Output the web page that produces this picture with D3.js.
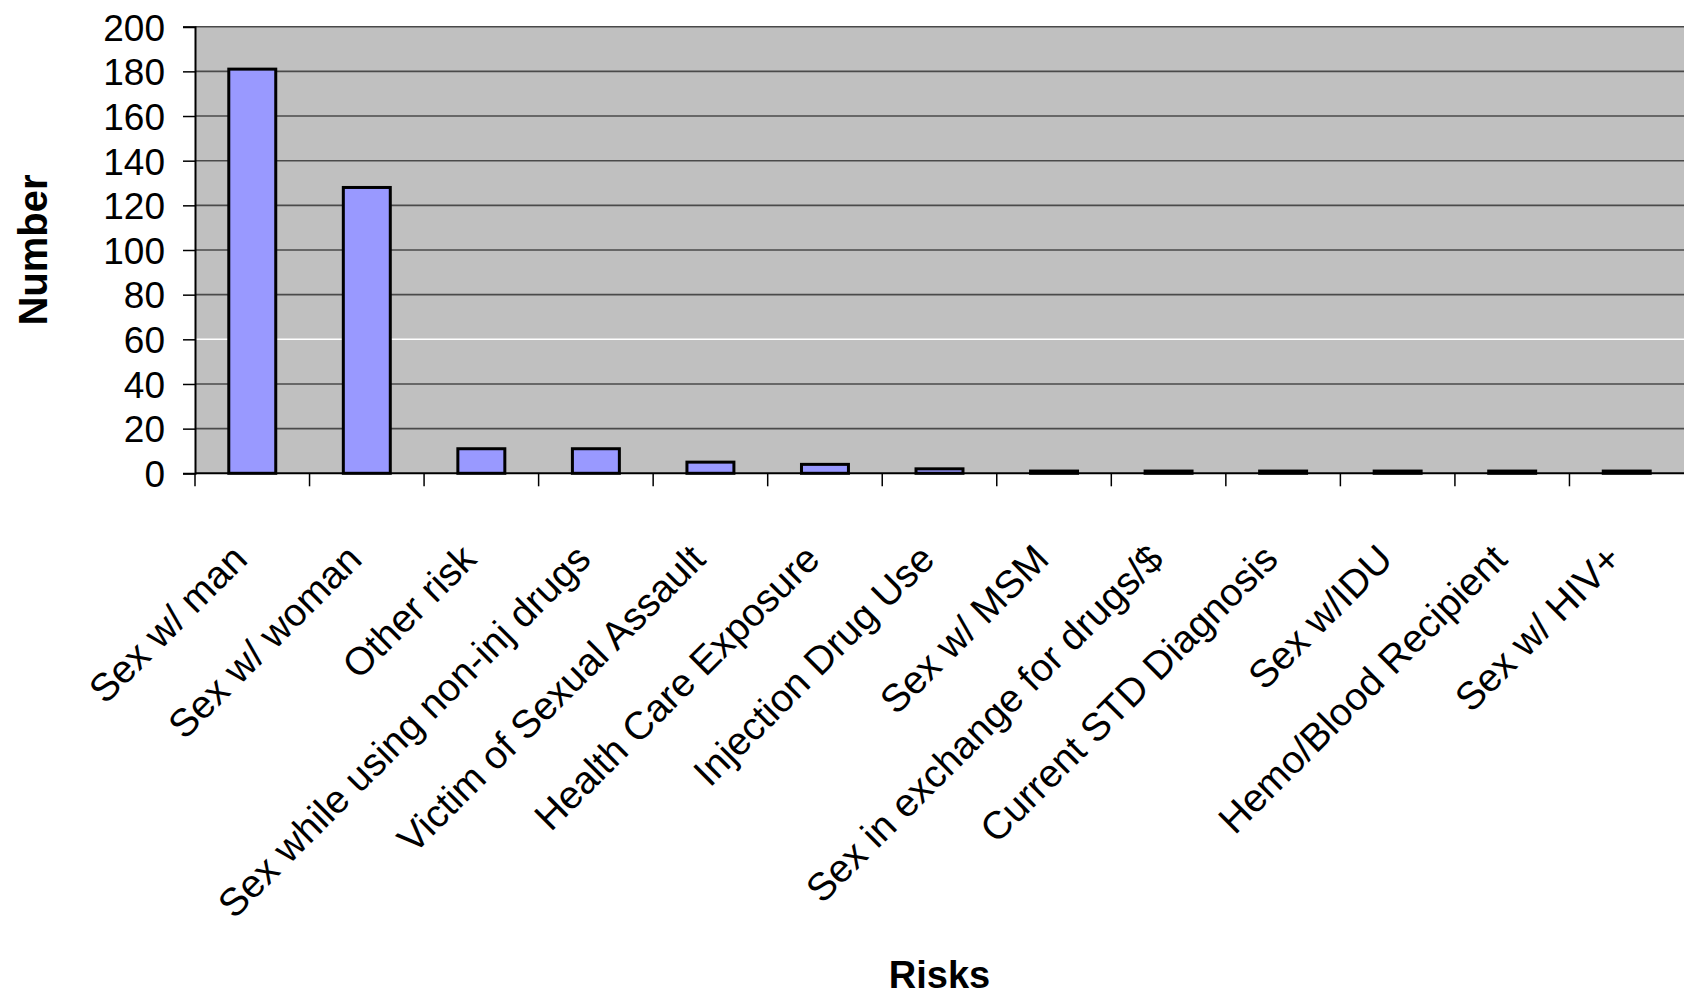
<!DOCTYPE html>
<html>
<head>
<meta charset="utf-8">
<script src="https://cdn.jsdelivr.net/npm/d3@7.9.0/dist/d3.min.js"></script>
<style>
  body { margin: 0; background: #fff; }
  svg { display: block; font-family: "Liberation Sans", Arial, sans-serif; }
</style>
</head>
<body>
<svg width="1684" height="996"></svg>
<script>
const categories = [
  "Sex w/ man",
  "Sex w/ woman",
  "Other risk",
  "Sex while using non-inj drugs",
  "Victim of Sexual Assault",
  "Health Care Exposure",
  "Injection Drug Use",
  "Sex w/ MSM",
  "Sex in exchange for drugs/$",
  "Current STD Diagnosis",
  "Sex w/IDU",
  "Hemo/Blood Recipient",
  "Sex w/ HIV+",
];
const counts = [181, 128, 11, 11, 5, 4, 2, 1, 1, 1, 1, 1, 1];
const yTicks = [0, 20, 40, 60, 80, 100, 120, 140, 160, 180, 200];

const svg = d3.select("svg");
const plotLeft = 195, plotRight = 1684, plotTop = 26.7, plotBottom = 473.3;

const x = d3.scaleBand()
  .domain(categories)
  .range([plotLeft, plotRight])
  .paddingInner(0.59)
  .paddingOuter(0.295);

const y = d3.scaleLinear().domain([0, 200]).range([plotBottom, plotTop]);

// plot area
svg.append("rect")
  .attr("x", plotLeft).attr("y", plotTop)
  .attr("width", plotRight - plotLeft).attr("height", plotBottom - plotTop)
  .attr("fill", "#c0c0c0");

// gridlines
svg.append("g")
  .selectAll("line")
  .data(yTicks.filter((d) => d > 0))
  .join("line")
  .attr("x1", plotLeft).attr("x2", plotRight)
  .attr("y1", (d) => y(d)).attr("y2", (d) => y(d))
  .attr("stroke", (d) => (d === 60 ? "#ffffff" : "#4a4a4a"))
  .attr("stroke-width", 1.6);

// bars
svg.append("g")
  .selectAll("rect")
  .data(counts)
  .join("rect")
  .attr("x", (d, i) => x(categories[i]))
  .attr("y", (d) => y(d))
  .attr("width", x.bandwidth())
  .attr("height", (d) => y(0) - y(d))
  .attr("fill", "#9999ff")
  .attr("stroke", "#000")
  .attr("stroke-width", 3);

// y axis
const yAxis = svg.append("g")
  .attr("transform", `translate(${plotLeft},0)`)
  .call(d3.axisLeft(y).tickValues(yTicks).tickSize(12).tickPadding(18));
yAxis.select(".domain").attr("stroke", "#000").attr("stroke-width", 2);
yAxis.selectAll(".tick line").attr("stroke", "#000").attr("stroke-width", 1.5);
yAxis.selectAll(".tick text")
  .attr("font-size", 37)
  .attr("fill", "#000")
  .attr("dy", "0.36em");

// x axis line and boundary ticks
const step = x.step();
svg.append("line")
  .attr("x1", plotLeft).attr("x2", plotRight)
  .attr("y1", plotBottom).attr("y2", plotBottom)
  .attr("stroke", "#000").attr("stroke-width", 2);
svg.append("g")
  .selectAll("line")
  .data(d3.range(categories.length))
  .join("line")
  .attr("x1", (i) => plotLeft + i * step).attr("x2", (i) => plotLeft + i * step)
  .attr("y1", plotBottom).attr("y2", plotBottom + 13)
  .attr("stroke", "#000").attr("stroke-width", 1.5);

// rotated category labels
svg.append("g")
  .selectAll("text")
  .data(categories)
  .join("text")
  .attr("transform", (d) => `translate(${x(d) + x.bandwidth() / 2 - 3},${plotBottom + 88}) rotate(-45)`)
  .attr("text-anchor", "end")
  .attr("font-size", 39)
  .attr("fill", "#000")
  .text((d) => d);

// axis titles
svg.append("text")
  .attr("x", (plotLeft + plotRight) / 2).attr("y", 988)
  .attr("text-anchor", "middle")
  .attr("font-size", 38).attr("font-weight", "bold")
  .text("Risks");

svg.append("text")
  .attr("transform", `translate(47,${(plotTop + plotBottom) / 2}) rotate(-90)`)
  .attr("text-anchor", "middle")
  .attr("font-size", 40).attr("font-weight", "bold")
  .text("Number");
</script>
</body>
</html>
